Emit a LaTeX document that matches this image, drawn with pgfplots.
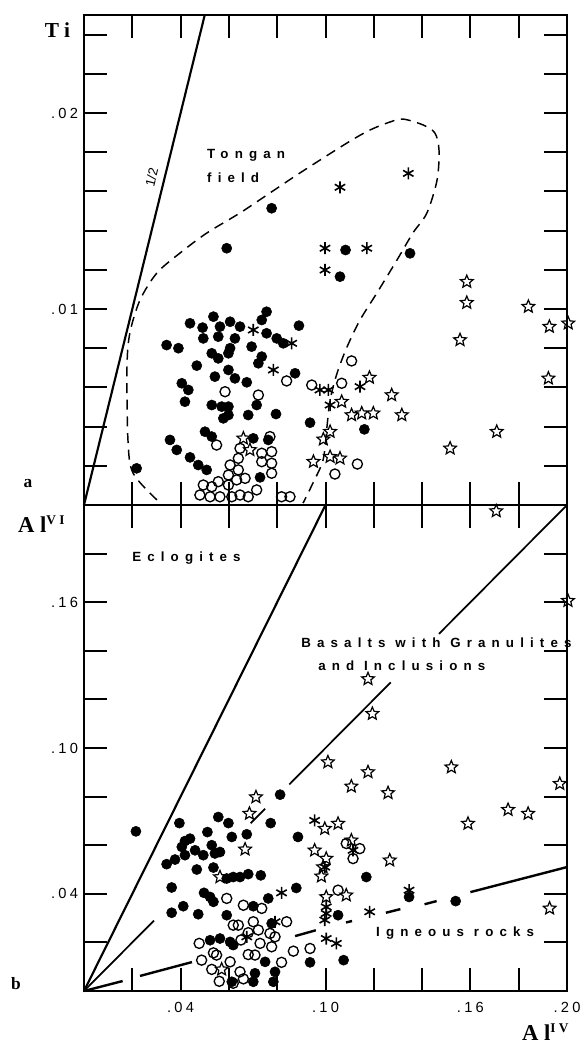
\documentclass[border=0pt]{standalone}
\usepackage{pgfplots}
\pgfplotsset{compat=1.18}
\usepackage{fontspec}
\setmainfont{Liberation Serif}
\newfontfamily\labfont[LetterSpace=46]{Liberation Sans}
\newfontfamily\tickfont[LetterSpace=22]{Liberation Sans}
\newfontfamily\plainsans{Liberation Sans}
\newfontfamily\titfont[LetterSpace=25]{Liberation Serif}

\pgfdeclareplotmark{ostar}{%
  \pgfpathmoveto{\pgfpointpolar{90}{1\pgfplotmarksize}}%
  \pgfpathlineto{\pgfpointpolar{126}{0.45\pgfplotmarksize}}%
  \pgfpathlineto{\pgfpointpolar{162}{1\pgfplotmarksize}}%
  \pgfpathlineto{\pgfpointpolar{198}{0.45\pgfplotmarksize}}%
  \pgfpathlineto{\pgfpointpolar{234}{1\pgfplotmarksize}}%
  \pgfpathlineto{\pgfpointpolar{270}{0.45\pgfplotmarksize}}%
  \pgfpathlineto{\pgfpointpolar{306}{1\pgfplotmarksize}}%
  \pgfpathlineto{\pgfpointpolar{342}{0.45\pgfplotmarksize}}%
  \pgfpathlineto{\pgfpointpolar{18}{1\pgfplotmarksize}}%
  \pgfpathlineto{\pgfpointpolar{54}{0.45\pgfplotmarksize}}%
  \pgfpathclose
  \pgfusepathqstroke
}

\pgfplotsset{
  panel/.style={scale only axis, width=362.25pt, xmin=0, xmax=0.2,
    axis line style={line width=1.5pt},
    tick style={line width=1.5pt, black},
    major tick length=17pt, tick align=inside, tick pos=both,
    clip=false, scaled ticks=false,
    ticklabel style={font=\tickfont\fontsize{11}{11}\selectfont},
    xtick={0.02,0.04,0.06,0.08,0.1,0.12,0.14,0.16,0.18,0.2},
    xticklabel style={yshift=-5pt},
    yticklabel style={xshift=-1pt}},
  fc/.style={only marks, mark=*, mark size=3.8pt, mark options={fill=black, draw=black}},
  oc/.style={only marks, mark=o, mark size=3.8pt, mark options={draw=black, line width=1pt}},
  as/.style={only marks, mark=asterisk, mark size=4.5pt, mark options={line width=1.2pt}},
  st/.style={only marks, mark=ostar, mark size=5pt, mark options={line width=0.9pt}}
}
\tikzset{lab/.style={font=\labfont\bfseries\fontsize{10}{10}\selectfont, anchor=west, inner sep=0pt}}

\begin{document}
\begin{tikzpicture}
\useasboundingbox (0,0) rectangle (437.25pt,-786.75pt);

% ---------------- panel a ----------------
\begin{axis}[panel, at={(63pt,-11.25pt)}, anchor=north west, height=367.5pt,
  ymin=0, ymax=0.025,
  ytick={0.002,0.004,0.006,0.008,0.01,0.012,0.014,0.016,0.018,0.02,0.022,0.024},
  yticklabels={,,,,.01,,,,,.02,,},
  xticklabels={}]
\addplot[black, line width=1.6pt] coordinates {(0,0) (0.05,0.025)};
\addplot[black, line width=1.1pt, dash pattern=on 7.5pt off 5pt, smooth, tension=0.5] coordinates {
(0.0302,0.00026) (0.0203,0.00163) (0.0182,0.00332) (0.0178,0.00704) (0.0190,0.00878)
(0.0232,0.01046) (0.0302,0.01184) (0.0398,0.01286) (0.0509,0.01388) (0.0646,0.01490)
(0.0770,0.01592) (0.0894,0.01694) (0.1089,0.01847) (0.1184,0.01913) (0.1267,0.01954)
(0.1321,0.01969) (0.1404,0.01939) (0.1453,0.01898) (0.1470,0.01811) (0.1462,0.01658)
(0.1420,0.01490) (0.1362,0.01388) (0.1296,0.01250) (0.1213,0.01082) (0.1143,0.00944)
(0.1089,0.00806) (0.1048,0.00673) (0.1019,0.00536) (0.1006,0.00398) (0.0990,0.00230)
(0.0948,0.00112) (0.0907,0.00010)};
\addplot[fc] coordinates {
(0.0439,0.00927) (0.0491,0.00905) (0.0536,0.00961) (0.0563,0.00910) (0.0605,0.00935)
(0.0646,0.00910) (0.0494,0.00850) (0.0556,0.00859) (0.0625,0.00850) (0.0605,0.00800)
(0.0756,0.00986) (0.0736,0.00944) (0.0756,0.00876) (0.0798,0.00850) (0.0825,0.00825)
(0.0890,0.00915) (0.0342,0.00816) (0.0391,0.00800) (0.0529,0.00774) (0.0556,0.00748)
(0.0598,0.00774) (0.0694,0.00808) (0.0736,0.00757) (0.0722,0.00723) (0.0467,0.00711)
(0.0542,0.00655) (0.0598,0.00689) (0.0625,0.00646) (0.0674,0.00626) (0.0405,0.00621)
(0.0432,0.00587) (0.0874,0.00672) (0.0418,0.00527) (0.0529,0.00510) (0.0570,0.00502)
(0.0598,0.00502) (0.0577,0.00442) (0.0598,0.00459) (0.0715,0.00510) (0.0680,0.00459)
(0.0795,0.00464) (0.0936,0.00420) (0.0501,0.00374) (0.0529,0.00349) (0.0356,0.00332)
(0.0384,0.00281) (0.0439,0.00243) (0.0473,0.00204) (0.0508,0.00179) (0.0701,0.00340)
(0.0763,0.00332) (0.0729,0.00141) (0.1083,0.01301) (0.1060,0.01165) (0.1350,0.01284)
(0.0777,0.01514) (0.0591,0.01310) (0.1161,0.00386) (0.0218,0.00187)};
\addplot[oc] coordinates {
(0.0839,0.00633) (0.0584,0.00578) (0.0722,0.00561) (0.0943,0.00612) (0.0549,0.00306)
(0.0646,0.00289) (0.0770,0.00349) (0.0736,0.00264) (0.0777,0.00272) (0.0639,0.00238)
(0.0736,0.00221) (0.0777,0.00213) (0.0605,0.00204) (0.0598,0.00153) (0.0639,0.00179)
(0.0777,0.00162) (0.0494,0.00102) (0.0529,0.00093) (0.0556,0.00119) (0.0598,0.00102)
(0.0632,0.00128) (0.0667,0.00136) (0.0715,0.00077) (0.0480,0.00051) (0.0522,0.00042)
(0.0563,0.00042) (0.0612,0.00042) (0.0646,0.00051) (0.0680,0.00042) (0.0818,0.00042)
(0.0853,0.00042) (0.1108,0.00735) (0.1067,0.00621) (0.1132,0.00209) (0.1039,0.00158)};
\addplot[as] coordinates {
(0.0701,0.00893) (0.0784,0.00689) (0.0860,0.00825) (0.0977,0.00587) (0.1012,0.00587)
(0.1343,0.01692) (0.1060,0.01621) (0.0998,0.01310) (0.1171,0.01310) (0.0998,0.01199)
(0.1143,0.00604) (0.1019,0.00510)};
\addplot[st] coordinates {
(0.0660,0.00340) (0.0687,0.00281) (0.1182,0.00650) (0.1067,0.00527) (0.1108,0.00459)
(0.1150,0.00468) (0.1198,0.00468) (0.1274,0.00561) (0.1316,0.00459) (0.1019,0.00374)
(0.0991,0.00335) (0.0950,0.00221) (0.1019,0.00246) (0.1060,0.00238) (0.1516,0.00289)
(0.1709,0.00374) (0.1585,0.01139) (0.1585,0.01032) (0.1840,0.01012) (0.1557,0.00842)
(0.1927,0.00910) (0.2005,0.00927) (0.1923,0.00646)};
\node[lab] at (axis cs:0.0509,0.01786) {Tongan};
\node[lab] at (axis cs:0.0509,0.01668) {field};
\node[font=\plainsans\fontsize{10}{10}\selectfont, rotate=76, inner sep=0pt] at (axis cs:0.0280,0.01673) {1/2};
\end{axis}

% ---------------- panel b ----------------
\begin{axis}[panel, at={(63pt,-378.75pt)}, anchor=north west, height=364.5pt,
  ymin=0, ymax=0.2, unbounded coords=jump,
  ytick={0.02,0.04,0.06,0.08,0.1,0.12,0.14,0.16,0.18},
  yticklabels={,.04,,,.10,,,.16,},
  xticklabels={,.04,,,.10,,,.16,,.20}]
\addplot[black, line width=1.6pt] coordinates {(0,0) (0.1,0.2)};
\addplot[black, line width=1.3pt] coordinates {
(0,0) (0.029,0.029) (nan,nan) (0.069,0.069) (0.075,0.075) (nan,nan)
(0.085,0.085) (0.127,0.127) (nan,nan) (0.147,0.147) (0.2,0.2)};
\addplot[black, line width=1.8pt] coordinates {
(0,0) (0.016,0.0041) (nan,nan) (0.0232,0.0062) (0.0447,0.0119) (nan,nan)
(0.0874,0.0226) (0.096,0.0250) (nan,nan) (0.1085,0.0282) (0.111,0.0288) (nan,nan)
(0.125,0.0322) (0.131,0.0337) (nan,nan) (0.141,0.0357) (0.146,0.0370) (nan,nan)
(0.160,0.0407) (0.20,0.0510)};
\addplot[fc] coordinates {
(0.0215,0.0657) (0.0395,0.0691) (0.0556,0.0716) (0.0598,0.0691) (0.0511,0.0654)
(0.0612,0.0634) (0.0674,0.0645) (0.0773,0.0691) (0.0812,0.0808) (0.0886,0.0634)
(0.0418,0.0617) (0.0439,0.0627) (0.0405,0.0593) (0.0460,0.0579) (0.0494,0.0559)
(0.0529,0.0600) (0.0542,0.0566) (0.0563,0.0572) (0.0342,0.0522) (0.0377,0.0541)
(0.0418,0.0559) (0.0467,0.0500) (0.0536,0.0508) (0.0591,0.0463) (0.0618,0.0469)
(0.0646,0.0469) (0.0680,0.0481) (0.0732,0.0476) (0.0363,0.0426) (0.0497,0.0404)
(0.0522,0.0387) (0.0536,0.0367) (0.0763,0.0381) (0.0879,0.0424) (0.0363,0.0322)
(0.0411,0.0349) (0.0473,0.0316) (0.0591,0.0312) (0.0701,0.0349) (0.0777,0.0278)
(0.0522,0.0209) (0.0563,0.0216) (0.0605,0.0202) (0.0618,0.0189) (0.0750,0.0120)
(0.0708,0.0073) (0.0701,0.0038) (0.0791,0.0079) (0.0784,0.0038) (0.0612,0.0038)
(0.0936,0.0118) (0.1075,0.0127) (0.1169,0.0469) (0.1052,0.0312) (0.1346,0.0387)
(0.1539,0.0370)};
\addplot[oc] coordinates {
(0.0591,0.0381) (0.0660,0.0353) (0.0736,0.0340) (0.0639,0.0271) (0.0701,0.0285)
(0.0722,0.0251) (0.0770,0.0237) (0.0791,0.0223) (0.0839,0.0285) (0.0477,0.0196)
(0.0536,0.0157) (0.0487,0.0127) (0.0529,0.0089) (0.0605,0.0120) (0.0646,0.0079)
(0.0729,0.0196) (0.0777,0.0182) (0.0708,0.0148) (0.0818,0.0118) (0.0867,0.0164)
(0.0936,0.0175) (0.0618,0.0032) (0.0680,0.0240) (0.0618,0.0271) (0.0549,0.0148)
(0.0660,0.0050) (0.0560,0.0040) (0.0680,0.0150) (0.0650,0.0210) (0.1086,0.0607)
(0.1142,0.0586) (0.1114,0.0545) (0.1052,0.0415)};
\addplot[as] coordinates {
(0.0818,0.0404) (0.0674,0.0223) (0.0791,0.0285) (0.0955,0.0702) (0.1114,0.0579)
(0.0997,0.0510) (0.1003,0.0346) (0.1003,0.0319) (0.0997,0.0292) (0.1183,0.0326)
(0.1346,0.0415) (0.1003,0.0216) (0.1045,0.0196)};
\addplot[st] coordinates {
(0.0712,0.0798) (0.0685,0.0730) (0.0667,0.0583) (0.0563,0.0469) (0.0570,0.0089)
(0.1176,0.1284) (0.1194,0.1141) (0.1010,0.0942) (0.1176,0.0901) (0.1521,0.0921)
(0.2004,0.1606) (0.1707,0.1975) (0.1107,0.0842) (0.1259,0.0815) (0.1590,0.0689)
(0.1756,0.0746) (0.1839,0.0730) (0.1970,0.0853) (0.1928,0.0340) (0.1052,0.0689)
(0.0997,0.0668) (0.0955,0.0579) (0.1003,0.0545) (0.0990,0.0510) (0.0983,0.0472)
(0.1107,0.0620) (0.1266,0.0538) (0.1003,0.0387) (0.1086,0.0394)};
\node[lab] at (axis cs:0.0199,0.1782) {Eclogites};
\node[lab] at (axis cs:0.0899,0.1433) {Basalts with Granulites};
\node[lab] at (axis cs:0.0969,0.1339) {and Inclusions};
\node[lab] at (axis cs:0.1209,0.0238) {Igneous rocks};
\end{axis}

% titles and panel letters
\node[font=\titfont\bfseries\fontsize{16}{16}\selectfont] at (43.1pt,-22.5pt) {Ti};
\node[font=\titfont\bfseries\fontsize{17}{17}\selectfont] at (31pt,-393pt) {Al\raisebox{0.75ex}{\fontsize{10}{10}\selectfont VI}};
\node[font=\titfont\bfseries\fontsize{17}{17}\selectfont] at (409pt,-774pt) {Al\raisebox{0.75ex}{\fontsize{10}{10}\selectfont IV}};
\node[font=\bfseries\fontsize{13}{13}\selectfont] at (21pt,-363pt) {a};
\node[font=\bfseries\fontsize{13}{13}\selectfont] at (12pt,-738pt) {b};
\end{tikzpicture}
\end{document}
